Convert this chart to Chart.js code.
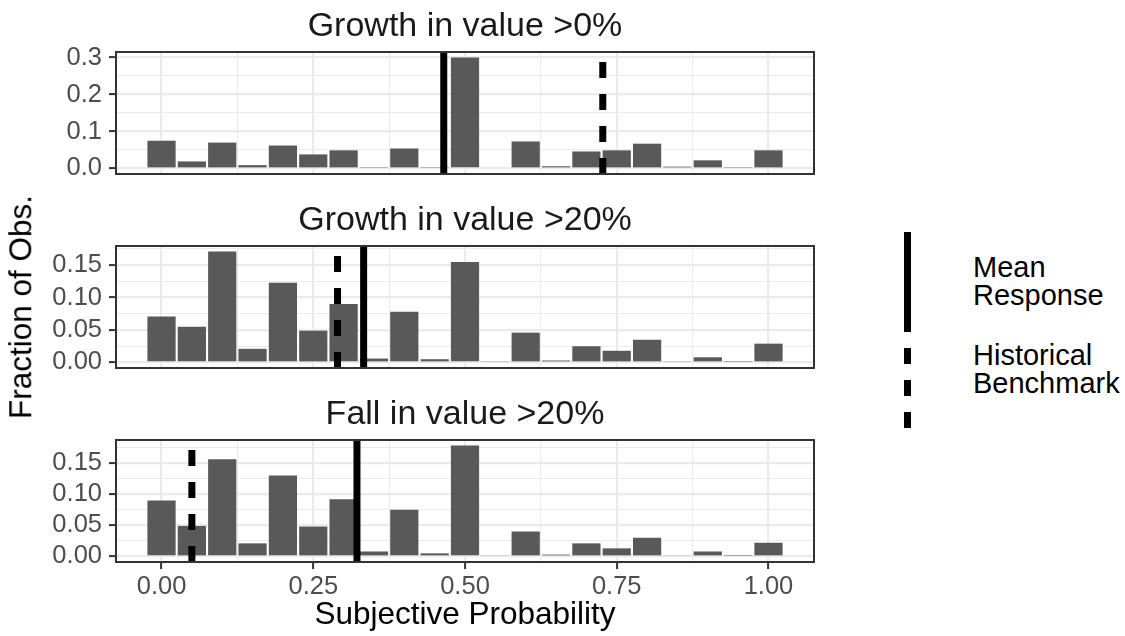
<!DOCTYPE html>
<html>
<head>
<meta charset="utf-8">
<script src="https://cdn.jsdelivr.net/npm/chart.js@4.4.1/dist/chart.umd.min.js"></script>
<style>
  html, body { margin: 0; padding: 0; background: #fff; }
  #fig { position: relative; width: 1125px; height: 636px; overflow: hidden; background: #fff;
         font-family: 'Liberation Sans', Arial, sans-serif; }
  #fig canvas { position: absolute; left: 0; }
  .key { position: absolute; left: 904px; width: 7px; }
  #keyMean { top: 232px; height: 100px; background: #000; }
  #keyBench { top: 332px; height: 96px;
              background: repeating-linear-gradient(to top, #000 0px, #000 16px, transparent 16px, transparent 32px); }
  .lab { position: absolute; left: 973px; font-size: 29px; line-height: 28px; color: #000; white-space: nowrap; }
  #yTitle { position: absolute; left: 21px; top: 307px; font-size: 31.5px; line-height: 31.5px; color: #000;
            white-space: nowrap; transform: translate(-50%, -50%) rotate(-90deg); }
</style>
</head>
<body>
<div id="fig">
  <canvas id="panel0" width="816" height="192" style="top:0px"></canvas>
  <canvas id="panel1" width="816" height="192" style="top:194px"></canvas>
  <canvas id="panel2" width="816" height="248" style="top:388px"></canvas>
  <div id="yTitle">Fraction of Obs.</div>
  <div class="key" id="keyMean"></div>
  <div class="key" id="keyBench"></div>
  <div class="lab" style="top:253px">Mean<br>Response</div>
  <div class="lab" style="top:341px">Historical<br>Benchmark</div>
</div>
<script>
// Histogram bins (bin centres of the subjective probability answers)
const bins = [0.00, 0.05, 0.10, 0.15, 0.20, 0.25, 0.30, 0.35, 0.40, 0.45, 0.50,
              0.55, 0.60, 0.65, 0.70, 0.75, 0.80, 0.85, 0.90, 0.95, 1.00];

const panelTitles = ['Growth in value >0%', 'Growth in value >20%', 'Fall in value >20%'];

// Fraction of observations per bin, one array per question
const fracGrowth0 = [0.075, 0.019, 0.070, 0.009, 0.062, 0.038, 0.049, 0.004, 0.054, 0.004, 0.300,
                     0.003, 0.073, 0.006, 0.046, 0.049, 0.067, 0.005, 0.022, 0.004, 0.049];
const fracGrowth20 = [0.071, 0.055, 0.171, 0.021, 0.123, 0.049, 0.090, 0.006, 0.078, 0.005, 0.155,
                      0.002, 0.046, 0.003, 0.025, 0.018, 0.035, 0.002, 0.008, 0.001, 0.029];
const fracFall20 = [0.090, 0.049, 0.156, 0.021, 0.130, 0.048, 0.092, 0.008, 0.075, 0.005, 0.178,
                    0.002, 0.040, 0.003, 0.021, 0.013, 0.030, 0.002, 0.008, 0.001, 0.022];

// Reference lines per question
const meanResponse = [0.465, 0.333, 0.322];
const histBenchmark = [0.727, 0.290, 0.050];

// Axis ticks and their labels
const xMajorTicks = [0, 0.25, 0.5, 0.75, 1];
const xTickLabels = ['0.00', '0.25', '0.50', '0.75', '1.00'];
const yMajorTicks = [[0, 0.1, 0.2, 0.3], [0, 0.05, 0.10, 0.15], [0, 0.05, 0.10, 0.15]];
const yTickLabels = [['0.0', '0.1', '0.2', '0.3'],
                     ['0.00', '0.05', '0.10', '0.15'],
                     ['0.00', '0.05', '0.10', '0.15']];
const xLimits = [-0.075, 1.075];

const series = [fracGrowth0, fracGrowth20, fracFall20];

Chart.defaults.font.family = "'Liberation Sans', Arial, sans-serif";

// major ticks plus half-step minor ticks that fall inside [lo, hi]
function tickObjects(majors, lo, hi) {
  const step = majors[1] - majors[0];
  const out = [];
  const first = majors[0] - step / 2;
  if (first >= lo) out.push({ value: first, minor: true });
  majors.forEach((m, i) => {
    out.push({ value: m, minor: false });
    const mid = m + step / 2;
    if (i < majors.length - 1 || mid <= hi) out.push({ value: mid, minor: true });
  });
  return out.filter(t => t.value >= lo - 1e-9 && t.value <= hi + 1e-9);
}

function labelFor(value, majors, labels) {
  const i = majors.findIndex(m => Math.abs(m - value) < 1e-9);
  return i >= 0 ? labels[i] : '';
}

// panel outline drawn over everything
const panelFrame = {
  id: 'panelFrame',
  afterDraw(chart) {
    const { ctx, chartArea: a } = chart;
    ctx.save();
    ctx.strokeStyle = '#333333';
    ctx.lineWidth = 2;
    ctx.strokeRect(a.left, a.top, a.right - a.left, a.bottom - a.top);
    ctx.restore();
  }
};

const gridWidth = c => (c.tick && c.tick.minor ? 1.1 : 2.2);
const tickMarkColor = c => (c.tick && c.tick.minor ? 'rgba(0,0,0,0)' : '#333333');

function makePanel(k) {
  const vals = series[k];
  const isBottom = k === series.length - 1;
  const top = Math.max(...vals);
  const yMin = -0.05 * top;
  const yMax = 1.05 * top;
  const yTicks = tickObjects(yMajorTicks[k], yMin, yMax);
  const xTicks = tickObjects(xMajorTicks, xLimits[0], xLimits[1]);

  new Chart(document.getElementById('panel' + k), {
    type: 'bar',
    data: {
      datasets: [
        {
          type: 'line',
          label: 'Mean Response',
          data: [{ x: meanResponse[k], y: yMin }, { x: meanResponse[k], y: yMax }],
          borderColor: '#000000',
          borderWidth: 7,
          borderCapStyle: 'butt',
          pointRadius: 0,
          order: 0
        },
        {
          type: 'line',
          label: 'Historical Benchmark',
          data: [{ x: histBenchmark[k], y: yMin }, { x: histBenchmark[k], y: yMax }],
          borderColor: '#000000',
          borderWidth: 7,
          borderDash: [16, 16],
          borderCapStyle: 'butt',
          pointRadius: 0,
          order: 0
        },
        {
          type: 'bar',
          label: panelTitles[k],
          data: bins.map((b, i) => ({ x: b, y: vals[i] })),
          backgroundColor: '#595959',
          borderWidth: 0,
          barPercentage: 0.93,
          categoryPercentage: 1.0,
          order: 1
        }
      ]
    },
    options: {
      responsive: false,
      animation: false,
      devicePixelRatio: 1,
      layout: { padding: { top: 0, right: 2, bottom: isBottom ? 0 : 18, left: 0 } },
      plugins: {
        legend: { display: false },
        tooltip: { enabled: false },
        title: {
          display: true,
          text: panelTitles[k],
          fullSize: false,
          color: '#1A1A1A',
          font: { size: 34, weight: 'normal', lineHeight: 1.2 },
          padding: { top: 6.2, bottom: 5 }
        }
      },
      scales: {
        x: {
          type: 'linear',
          min: xLimits[0],
          max: xLimits[1],
          offset: false,
          afterBuildTicks: s => { s.ticks = xTicks.map(t => ({ ...t })); },
          afterFit: s => {
            s.height = isBottom ? 74 : 0;
            s.paddingLeft = 0;
            s.paddingRight = 0;
          },
          border: { display: false },
          grid: {
            offset: false,
            color: '#EBEBEB',
            lineWidth: gridWidth,
            drawTicks: isBottom,
            tickLength: 7,
            tickWidth: 2,
            tickColor: tickMarkColor
          },
          ticks: {
            display: isBottom,
            autoSkip: false,
            maxRotation: 0,
            padding: 3,
            color: '#4D4D4D',
            font: { size: 25.5 },
            callback: v => labelFor(v, xMajorTicks, xTickLabels)
          },
          title: {
            display: isBottom,
            text: 'Subjective Probability',
            color: '#000000',
            font: { size: 31.5 },
            padding: { top: 0, bottom: 2 }
          }
        },
        y: {
          type: 'linear',
          min: yMin,
          max: yMax,
          afterBuildTicks: s => { s.ticks = yTicks.map(t => ({ ...t })); },
          afterFit: s => {
            s.width = 116;
            s.paddingTop = 0;
            s.paddingBottom = 0;
          },
          border: { display: false },
          grid: {
            color: '#EBEBEB',
            lineWidth: gridWidth,
            drawTicks: true,
            tickLength: 7,
            tickWidth: 2,
            tickColor: tickMarkColor
          },
          ticks: {
            autoSkip: false,
            padding: 7,
            color: '#4D4D4D',
            font: { size: 25.5 },
            callback: v => labelFor(v, yMajorTicks[k], yTickLabels[k])
          }
        }
      }
    },
    plugins: [panelFrame]
  });
}

series.forEach((_, k) => makePanel(k));
</script>
</body>
</html>
